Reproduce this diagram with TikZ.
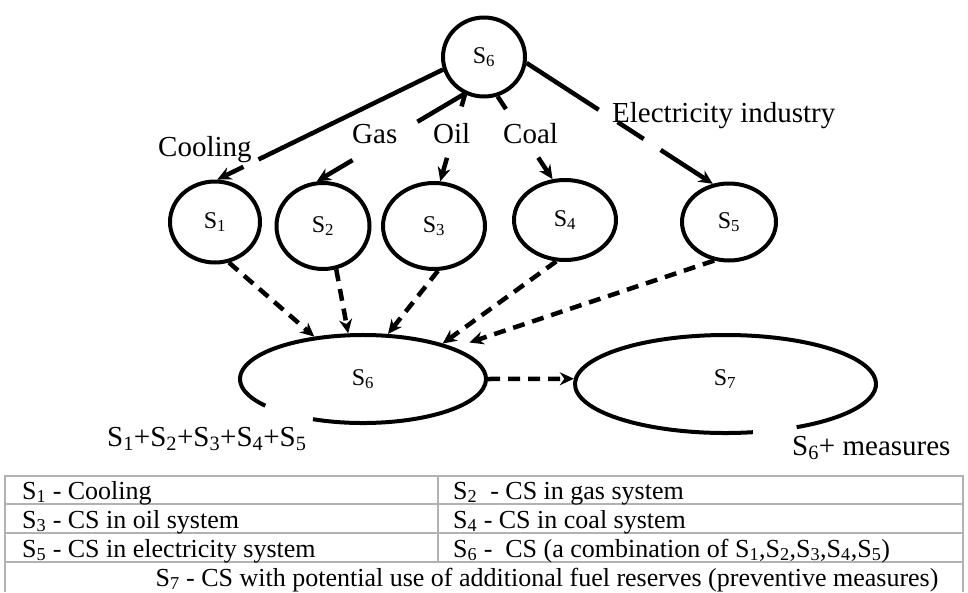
\documentclass[tikz,border=0pt]{standalone}
\usepackage{fontspec}
\setmainfont{Liberation Serif}
\usetikzlibrary{arrows.meta,calc,shapes.geometric}
\tikzset{
  circ/.style={ellipse, draw, line width=4pt, inner sep=0pt, font=\fontsize{24}{26}\selectfont},
  hidellipse/.style={ellipse, draw=none, inner sep=0pt, outer sep=2pt},
  ring/.style={line width=4pt},
  lbl/.style={font=\fontsize{29}{32}\selectfont, inner sep=0pt, anchor=base west},
  tbl/.style={font=\fontsize{26}{28}\selectfont, inner sep=0pt, anchor=base west},
  solidln/.style={line width=4.5pt},
  solidarr/.style={line width=4.5pt, -{Stealth[length=14pt,width=13pt]}},
  dasharr/.style={line width=4.5pt, dash pattern=on 12pt off 8pt, -{Stealth[length=14pt,width=13pt]}},
  gridln/.style={draw=black!30, line width=1.5pt}
}
\begin{document}
\begin{tikzpicture}[x=1pt,y=-1pt]
\useasboundingbox (0,0) rectangle (968,592);

% circles
\node[circ, minimum width=82pt, minimum height=79pt] (T) at (484,57) {S\textsubscript{6}};
\node[circ, minimum width=90pt, minimum height=81pt] (S1) at (215,222) {S\textsubscript{1}};
\node[circ, minimum width=93pt, minimum height=86pt] (S2) at (323,226) {S\textsubscript{2}};
\node[circ, minimum width=102pt, minimum height=86pt] (S3) at (434,226) {S\textsubscript{3}};
\node[circ, minimum width=102pt, minimum height=80pt] (S4) at (565,220) {S\textsubscript{4}};
\node[circ, minimum width=94pt, minimum height=77pt] (S5) at (729,222) {S\textsubscript{5}};

% open ellipses
\node[hidellipse, minimum width=246pt, minimum height=88pt, font=\fontsize{24}{26}\selectfont] (B) at (363,379) {S\textsubscript{6}};
\draw[ring] ($(B.center)+(114:123 and 44)$) arc[start angle=114, end angle=-217.4, x radius=123, y radius=44];
\node[hidellipse, minimum width=301pt, minimum height=98pt] (S7) at (725.5,384) {};
\node[font=\fontsize{24}{26}\selectfont, inner sep=0pt] (S7t) at (725,379) {S\textsubscript{7}};
\draw[ring] ($(S7.center)+(79.5:150.5 and 49)$) arc[start angle=79.5, end angle=421.8, x radius=150.5, y radius=49];

% solid connectors (broken by labels)
\draw[solidln] (T.197) -- ($(T.197)!0.817!(S1.87)$);
\draw[solidarr] ($(T.197)!0.884!(S1.87)$) -- (S1.87);

\draw[solidln] (T.242) -- ($(T.242)!0.318!(S2.98)$);
\draw[solidarr] ($(T.242)!0.757!(S2.98)$) -- (S2.98);

\draw[solidln] (T.243) -- ($(T.243)!0.14!(S3.82)$);
\draw[solidarr] ($(T.243)!0.73!(S3.82)$) -- (S3.82);

\draw[solidln] (T.289) -- ($(T.289)!0.153!(S4.107)$);
\draw[solidarr] ($(T.289)!0.74!(S4.107)$) -- (S4.107);

\draw[solidln] (T.352) -- ($(T.352)!0.387!(S5.113)$);
\draw[solidln] ($(T.352)!0.489!(S5.113)$) -- ($(T.352)!0.629!(S5.113)$);
\draw[solidarr] ($(T.352)!0.72!(S5.113)$) -- (S5.113);

% dashed connectors
\draw[dasharr] (S1.-71) -- (B.139);
\draw[dasharr] (S2.-73) -- (B.108);
\draw[dasharr] (S3.-85) -- (B.61);
\draw[dasharr] (S4.-102) -- (B.24);
\draw[dasharr, shorten >=16pt] (S5.-111) -- (B.19);
\draw[dasharr] (B.east) -- (S7.178);

% labels
\node[lbl] (cool) at (158,156) {Cooling};
\node[lbl] (gas) at (352,143) {Gas};
\node[lbl] (oil) at (433,143) {Oil};
\node[lbl] (coal) at (503,143) {Coal};
\node[lbl] (elec) at (612,122) {Electricity industry};
\node[lbl] (sum) at (107,446) {S\textsubscript{1}+S\textsubscript{2}+S\textsubscript{3}+S\textsubscript{4}+S\textsubscript{5}};
\node[lbl] (meas) at (792,455) {S\textsubscript{6}+ measures};

% table
\draw[gridln] (5,592) -- (5,476) -- (963,476) -- (963,592);
\draw[gridln] (5,504) -- (963,504);
\draw[gridln] (5,533) -- (963,533);
\draw[gridln] (5,562) -- (963,562);
\draw[gridln] (438,476) -- (438,562);

\node[tbl] (t1) at (22,499) {S\textsubscript{1} - Cooling};
\node[tbl] (t2) at (453,499) {S\textsubscript{2}\ \ - CS in gas system};
\node[tbl] (t3) at (22,528) {S\textsubscript{3} - CS in oil system};
\node[tbl] (t4) at (453,528) {S\textsubscript{4} - CS in coal system};
\node[tbl] (t5) at (22,557) {S\textsubscript{5} - CS in electricity system};
\node[tbl] (t6) at (453,557) {S\textsubscript{6} -\ \ CS (a combination of S\textsubscript{1},S\textsubscript{2},S\textsubscript{3},S\textsubscript{4},S\textsubscript{5})};
\node[tbl, anchor=base] (t7) at (547,586) {S\textsubscript{7} - CS with potential use of additional fuel reserves (preventive measures)};
\end{tikzpicture}
\end{document}
